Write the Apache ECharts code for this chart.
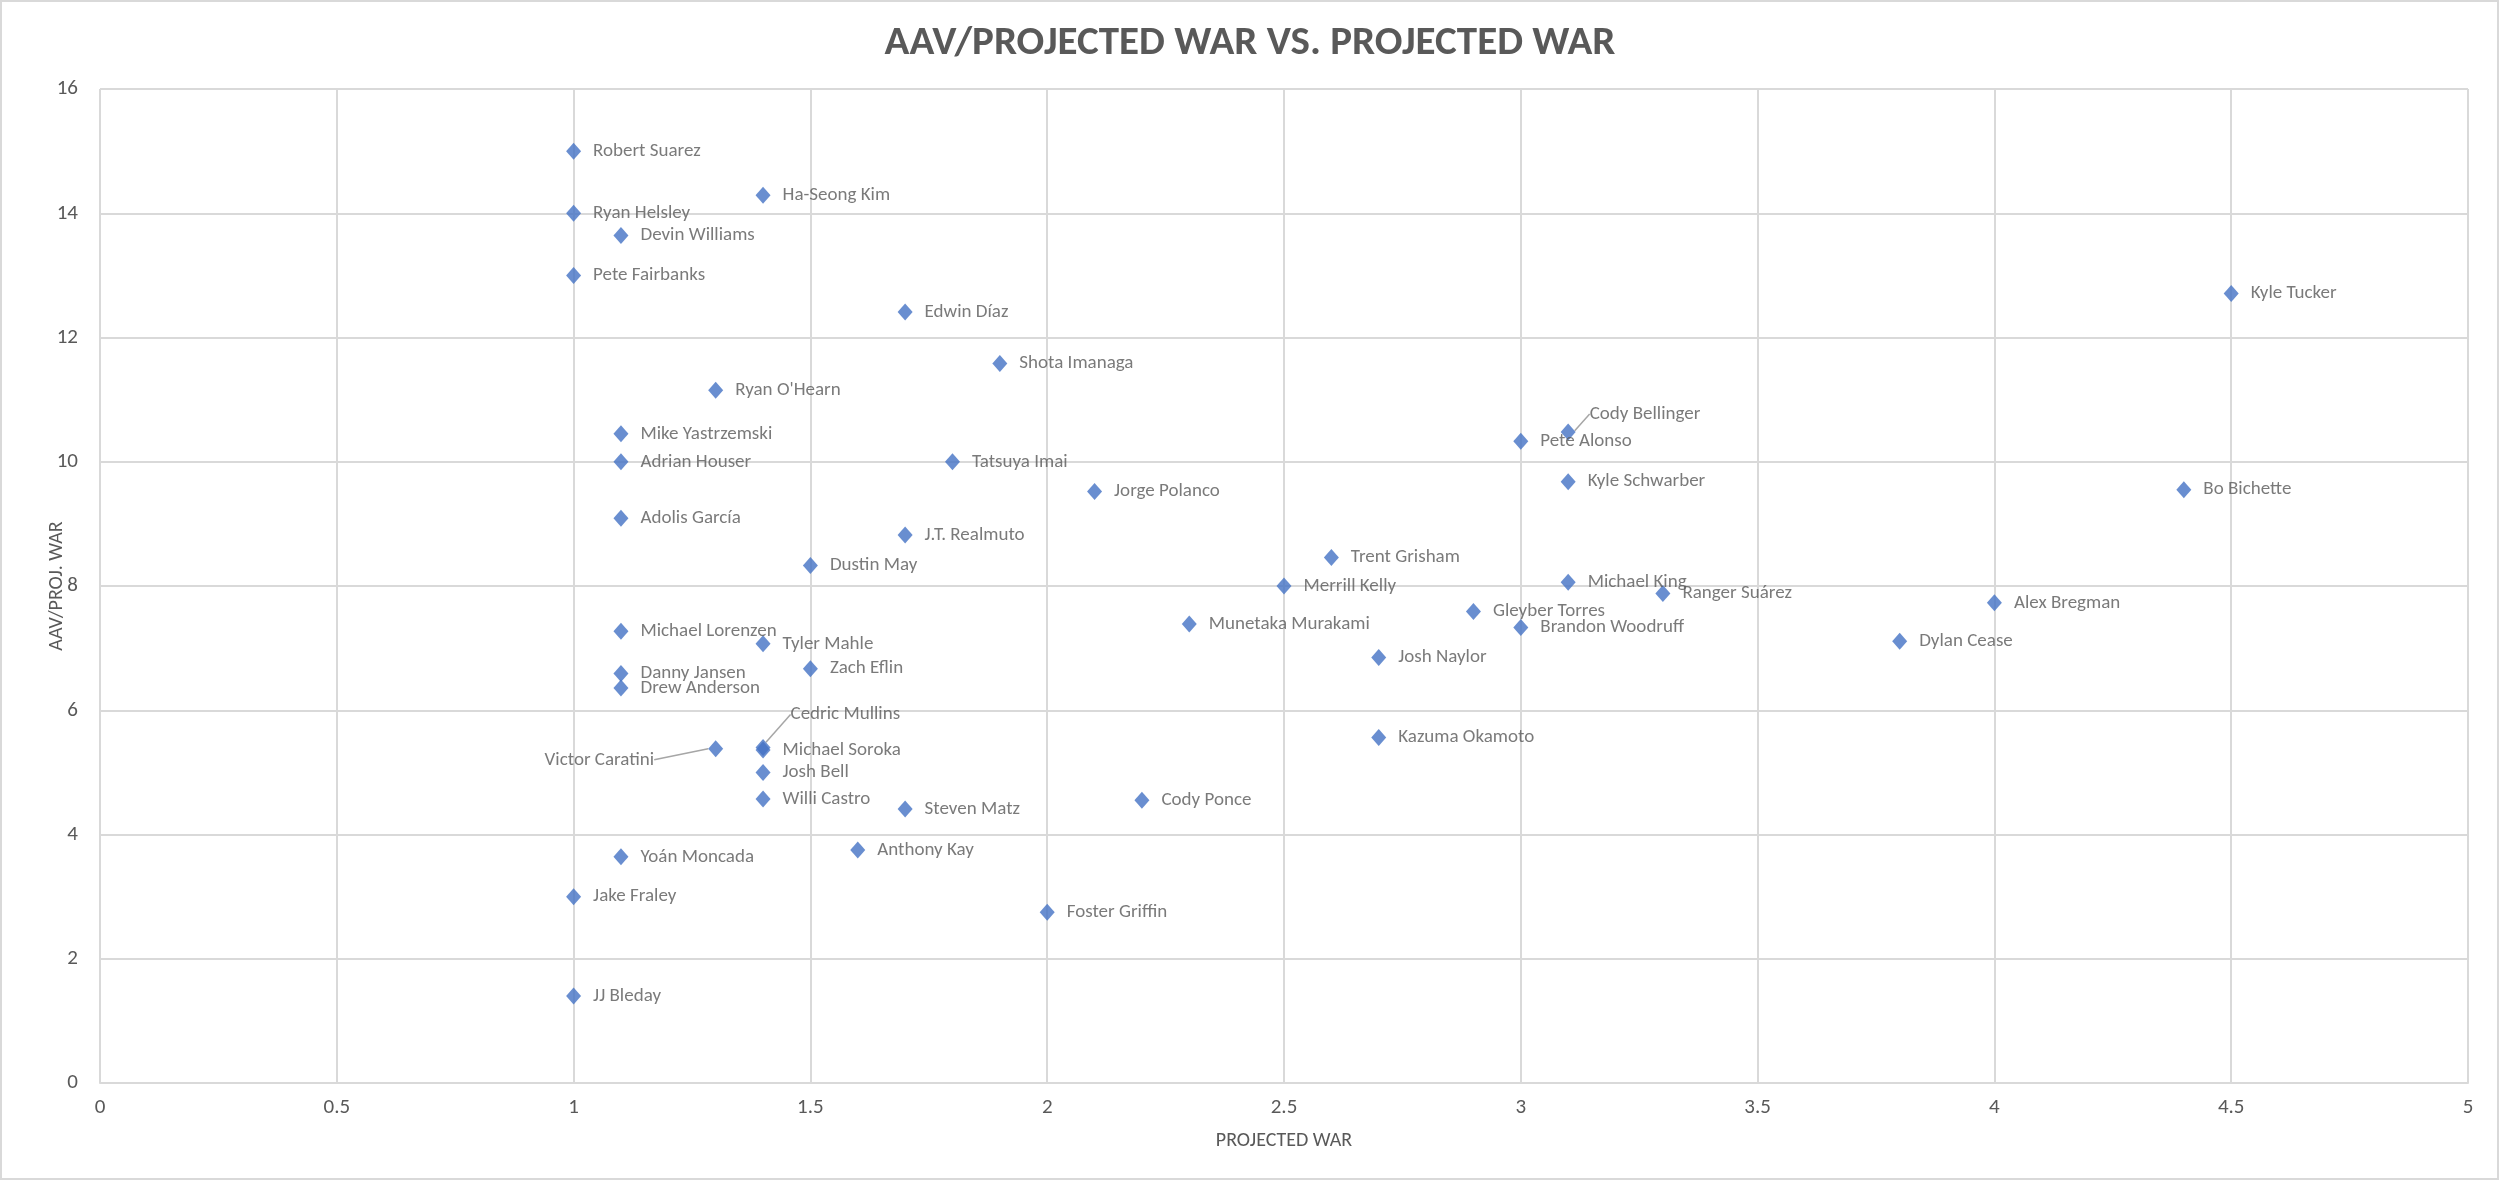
<!DOCTYPE html>
<html>
<head>
<meta charset="utf-8">
<script src="https://cdn.jsdelivr.net/npm/echarts@6/dist/echarts.min.js"></script>
<style>
  html, body { margin: 0; padding: 0; background: #fff; }
  #chart { width: 2500px; height: 1181px; }
</style>
</head>
<body>
<div id="chart"></div>
<script>
// player names, projected WAR (x) and AAV / projected WAR (y)
var players = [
    'Robert Suarez', 'Ryan Helsley', 'Devin Williams', 'Pete Fairbanks', 'Ha-Seong Kim',
    'Edwin Díaz', 'Shota Imanaga', "Ryan O'Hearn", 'Mike Yastrzemski', 'Adrian Houser',
    'Adolis García', 'Tatsuya Imai', 'Jorge Polanco', 'J.T. Realmuto', 'Dustin May',
    'Michael Lorenzen', 'Tyler Mahle', 'Zach Eflin', 'Danny Jansen', 'Drew Anderson',
    'Cedric Mullins', 'Victor Caratini', 'Michael Soroka', 'Josh Bell', 'Willi Castro',
    'Steven Matz', 'Anthony Kay', 'Yoán Moncada', 'Jake Fraley', 'JJ Bleday',
    'Foster Griffin', 'Cody Ponce', 'Munetaka Murakami', 'Merrill Kelly', 'Trent Grisham',
    'Josh Naylor', 'Kazuma Okamoto', 'Gleyber Torres', 'Brandon Woodruff', 'Pete Alonso',
    'Cody Bellinger', 'Kyle Schwarber', 'Michael King', 'Ranger Suárez', 'Alex Bregman',
    'Dylan Cease', 'Bo Bichette', 'Kyle Tucker'
];
var projWar = [
    1.0, 1.0, 1.1, 1.0, 1.4,
    1.7, 1.9, 1.3, 1.1, 1.1,
    1.1, 1.8, 2.1, 1.7, 1.5,
    1.1, 1.4, 1.5, 1.1, 1.1,
    1.4, 1.3, 1.4, 1.4, 1.4,
    1.7, 1.6, 1.1, 1.0, 1.0,
    2.0, 2.2, 2.3, 2.5, 2.6,
    2.7, 2.7, 2.9, 3.0, 3.0,
    3.1, 3.1, 3.1, 3.3, 4.0,
    3.8, 4.4, 4.5
];
var aavPerWar = [
    15.0, 14.0, 13.64, 13.0, 14.29,
    12.41, 11.58, 11.15, 10.45, 10.0,
    9.09, 10.0, 9.52, 8.82, 8.33,
    7.27, 7.07, 6.67, 6.59, 6.36,
    5.4, 5.38, 5.36, 5.0, 4.57,
    4.41, 3.75, 3.64, 3.0, 1.4,
    2.75, 4.55, 7.39, 8.0, 8.46,
    6.85, 5.56, 7.59, 7.33, 10.33,
    10.48, 9.68, 8.06, 7.88, 7.73,
    7.11, 9.55, 12.71
];
var xTicks = [0, 0.5, 1, 1.5, 2, 2.5, 3, 3.5, 4, 4.5, 5];
var yTicks = [0, 2, 4, 6, 8, 10, 12, 14, 16];

var font = "Carlito, Calibri, 'Liberation Sans Narrow', 'Open Sans', sans-serif";
var textColor = '#595959';
var gridColor = '#d9d9d9';

// labels that Excel pulled away from their point, with a leader line
var movedLabels = {
    'Victor Caratini': { dx: -42, dy: 11 },
    'Cedric Mullins': { dx: 8, dy: -33 },
    'Cody Bellinger': { dx: 2, dy: -18 }
};

var data = players.map(function (name, i) {
    var item = { value: [projWar[i], aavPerWar[i]], name: name };
    if (movedLabels[name]) {
        item.labelLine = { show: true };
    }
    if (name === 'Victor Caratini') {
        item.label = { position: 'left' };
    }
    return item;
});

var chart = echarts.init(document.getElementById('chart'));
chart.setOption({
    animation: false,
    backgroundColor: '#fff',
    title: {
        text: 'AAV/PROJECTED WAR VS. PROJECTED WAR',
        left: 'center',
        top: 18,
        textStyle: {
            fontFamily: font,
            fontSize: 41,
            fontWeight: 'bold',
            color: textColor
        }
    },
    graphic: [{
        type: 'rect',
        shape: { x: 1, y: 1, width: 2497, height: 1178 },
        style: { fill: 'none', stroke: gridColor, lineWidth: 2 },
        silent: true
    }],
    grid: { left: 100, right: 32, top: 89, bottom: 98 },
    xAxis: {
        type: 'value',
        min: xTicks[0],
        max: xTicks[xTicks.length - 1],
        interval: 0.5,
        name: 'PROJECTED WAR',
        nameLocation: 'middle',
        nameGap: 48,
        nameMoveOverlap: false,
        nameTextStyle: { fontFamily: font, fontSize: 20, color: textColor },
        axisLine: { show: true, lineStyle: { color: gridColor, width: 2 } },
        axisTick: { show: false },
        axisLabel: { fontFamily: font, fontSize: 21, color: textColor, margin: 14 },
        splitLine: { lineStyle: { color: gridColor, width: 2 } }
    },
    yAxis: {
        type: 'value',
        min: yTicks[0],
        max: yTicks[yTicks.length - 1],
        interval: 2,
        name: 'AAV/PROJ. WAR',
        nameLocation: 'middle',
        nameGap: 33,
        nameMoveOverlap: false,
        nameTextStyle: { fontFamily: font, fontSize: 20, color: textColor },
        axisLine: { show: false },
        axisTick: { show: false },
        axisLabel: { fontFamily: font, fontSize: 21, color: textColor, margin: 22 },
        splitLine: { lineStyle: { color: gridColor, width: 2 } }
    },
    series: [{
        type: 'scatter',
        symbol: 'diamond',
        symbolSize: [15, 17],
        itemStyle: { color: '#4472c4' },
        data: data,
        label: {
            show: true,
            position: 'right',
            distance: 12,
            formatter: '{b}',
            fontFamily: font,
            fontSize: 19,
            color: textColor
        },
        labelLine: {
            show: false,
            lineStyle: { color: '#a6a6a6', width: 1.5 }
        },
        labelLayout: function (params) {
            var move = movedLabels[players[params.dataIndex]];
            return move ? { dx: move.dx, dy: move.dy } : {};
        }
    }]
});
</script>
</body>
</html>
